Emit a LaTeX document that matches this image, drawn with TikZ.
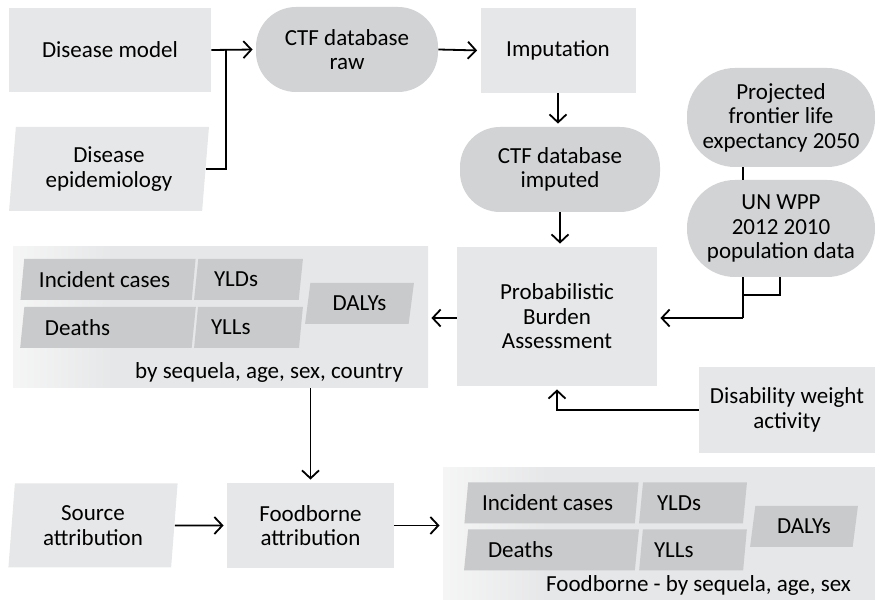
\documentclass[tikz,border=0pt]{standalone}
\usepackage{fontspec}
\setmainfont{Carlito}
\usepackage{tikz}
\usetikzlibrary{arrows.meta, positioning, shapes.geometric}

\definecolor{boxgray}{HTML}{E6E7E8}
\definecolor{roundgray}{HTML}{D1D3D4}
\definecolor{cellgray}{HTML}{C9CACB}
\pgfdeclarehorizontalshading{panelfade}{100bp}{color(0bp)=(white); color(25bp)=(white!60!boxgray); color(37bp)=(boxgray); color(100bp)=(boxgray)}

\tikzset{
  stepbox/.style={rectangle, fill=boxgray, align=flush center},
  dbbox/.style={rectangle, rounded corners=20pt, fill=roundgray, align=flush center},
  inbox/.style={trapezium, trapezium stretches=true, trapezium left angle=84,
    trapezium right angle=96, fill=boxgray, align=flush center, inner sep=0pt},
  cell/.style={trapezium, trapezium stretches=true, trapezium left angle=79,
    trapezium right angle=101, fill=cellgray, inner sep=0pt,
    minimum height=20.5pt, align=flush left},
  panel/.style={shading=panelfade, inner sep=0pt},
  flow/.style={line width=0.9pt, -{Straight Barb[length=4pt, width=8.5pt]}, shorten >=1.5pt},
  link/.style={line width=0.9pt}
}

\begin{document}
\begin{tikzpicture}[x=0.5pt, y=-0.5pt, font=\fontsize{11.5}{12.2}\selectfont]
\useasboundingbox (0,0) rectangle (875,609);

% output panels
\node[panel, minimum width=207.5pt, minimum height=70.5pt] (panel1) at (220.5,317.5) {};
\node[panel, minimum width=216pt, minimum height=66pt] (panel2) at (659,534) {};

% inputs and steps
\node[stepbox, minimum width=101pt, minimum height=42pt] (dmodel) at (110,50) {Disease model};
\node[inbox, minimum width=100pt, minimum height=42pt] (depi) at (109,169) {Disease\\epidemiology};
\node[dbbox, minimum width=91pt, minimum height=42.5pt] (ctfraw) at (347,49.5) {CTF database\\raw};
\node[stepbox, minimum width=77.5pt, minimum height=42.5pt] (imput) at (558,50.5) {Imputation};
\node[dbbox, minimum width=100pt, minimum height=42.5pt] (ctfimp) at (560,169.5) {CTF database\\imputed};
\node[stepbox, minimum width=100pt, minimum height=69.5pt] (pba) at (557,316.5) {Probabilistic\\Burden\\Assessment};
\node[dbbox, rounded corners=24pt, minimum width=94pt, minimum height=49.5pt] (proj) at (781,117.5) {Projected\\frontier life\\expectancy 2050};
\node[dbbox, rounded corners=24pt, minimum width=94pt, minimum height=48.5pt] (unwpp) at (781,228.5) {UN WPP\\2012 2010\\population data};
\node[stepbox, minimum width=88pt, minimum height=43pt] (dis) at (787,410) {Disability weight\\activity};
\node[inbox, minimum width=85pt, minimum height=42pt] (srcat) at (93,525.5) {Source\\attribution};
\node[stepbox, minimum width=83.5pt, minimum height=42.5pt] (fba) at (310.5,525.5) {Foodborne\\attribution};

% results by country
\node[cell, minimum width=88pt, text width=69pt] (inc1) at (108,279.5) {Incident cases};
\node[cell, minimum width=54.5pt, text width=34.5pt] (yld1) at (248.5,279.5) {YLDs};
\node[cell, minimum width=88pt, text width=63pt] (dth1) at (108,327.5) {Deaths};
\node[cell, minimum width=54.5pt, text width=37.5pt] (yll1) at (248.5,327.5) {YLLs};
\node[cell, minimum width=54.5pt, align=flush center] (daly1) at (359.5,303.5) {DALYs};
\node[anchor=east] (cap1) at (410,372) {by sequela, age, sex, country};

% foodborne results
\node[cell, minimum width=87.5pt, text width=69.5pt] (inc2) at (551.5,503) {Incident cases};
\node[cell, minimum width=54pt, text width=36pt] (yld2) at (693,503) {YLDs};
\node[cell, minimum width=87.5pt, text width=63.5pt] (dth2) at (551.5,550) {Deaths};
\node[cell, minimum width=54pt, text width=39pt] (yll2) at (693,550) {YLLs};
\node[cell, minimum width=54pt, align=flush center] (daly2) at (804,526.5) {DALYs};
\node[anchor=east] (cap2) at (858,585) {Foodborne - by sequela, age, sex};

% junctions
\coordinate (j1) at (226,50);
\coordinate (j2) at (743,318);
\coordinate (j3) at (780,295);

% connectors
\draw[flow] (dmodel.east) -- (ctfraw.west);
\draw[link] (depi.east) -| (j1);
\draw[flow] (ctfraw.east) -- (imput.west);
\draw[flow] (imput.south) -- (imput.south |- ctfimp.north);
\draw[flow] (ctfimp.south) -- (ctfimp.south |- pba.north);
\draw[link] (proj.south -| j2) -- (unwpp.north -| j2);
\draw[link] (unwpp.south -| j2) -- (j2);
\draw[link] (unwpp.south -| j3) -- (j3) -- (j3 -| j2);
\draw[flow] (j2) -- (pba.east |- j2);
\draw[flow] (pba.west |- j2) -- (panel1.east |- j2);
\draw[flow] (dis.west) -| (pba.south);
\draw[flow] (fba.north |- panel1.south) -- (fba.north);
\draw[flow] (srcat.east) -- (fba.west);
\draw[flow] (fba.east) -- (fba.east -| panel2.west);
\end{tikzpicture}
\end{document}
